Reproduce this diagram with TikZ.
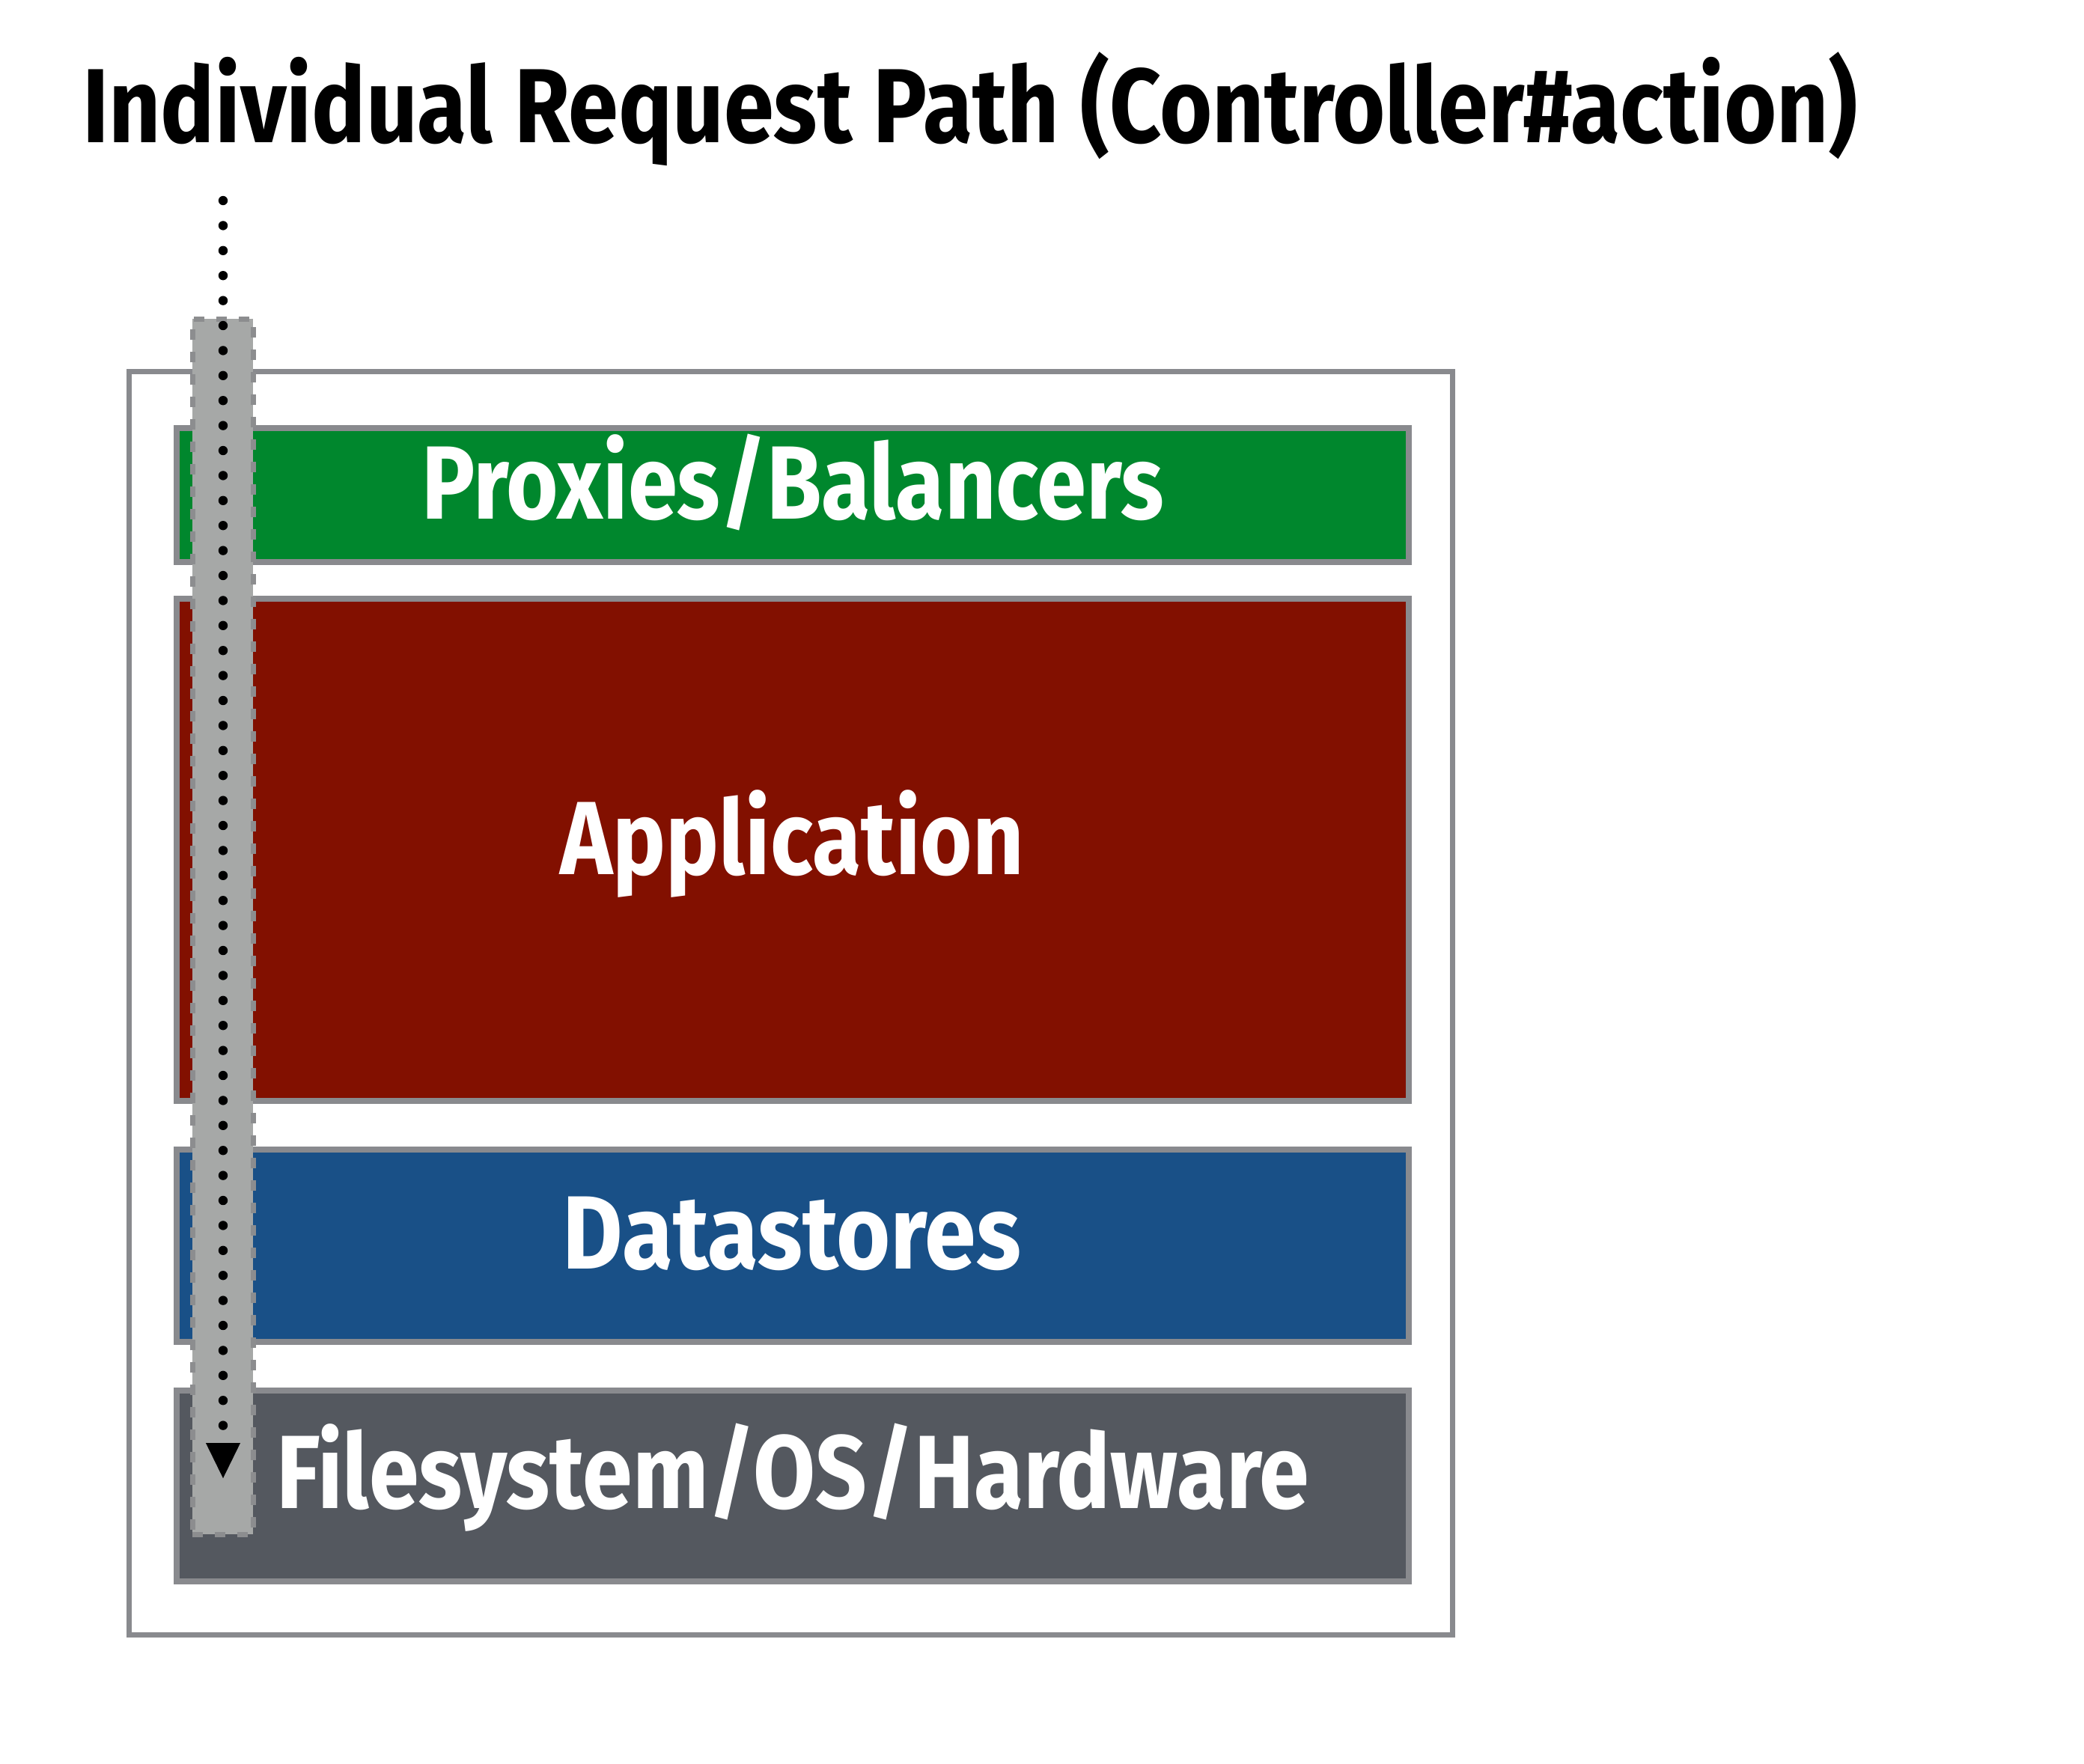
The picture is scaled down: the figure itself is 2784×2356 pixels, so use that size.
\documentclass[tikz,border=0pt]{standalone}
\usepackage{fontspec}
\setmainfont{Fira Sans}
\usepackage{graphicx}
\usetikzlibrary{arrows.meta}
\definecolor{layergreen}{RGB}{0,135,45}
\definecolor{layerred}{RGB}{130,16,0}
\definecolor{layerblue}{RGB}{25,80,135}
\definecolor{layergray}{RGB}{84,88,95}
\definecolor{edgegray}{RGB}{137,138,142}
\definecolor{stripfill}{RGB}{166,168,167}
\definecolor{stripedge}{RGB}{140,141,143}
\newcommand\fitw[2]{\resizebox{#1}{\height}{#2}}
\tikzset{
  layerbox/.style={draw=edgegray, line width=2pt, inner sep=0pt, outer sep=0pt,
    minimum width=411.5pt},
  layertext/.style={inner sep=0pt, outer sep=0pt, anchor=base, text=white,
    font=\fontsize{34.8pt}{40pt}\selectfont\bfseries},
  titletext/.style={inner sep=0pt, outer sep=0pt, anchor=base west, text=black,
    font=\fontsize{35.2pt}{40pt}\selectfont\bfseries},
  stripbox/.style={draw=stripedge, fill=stripfill, line width=1.75pt,
    dash pattern=on 3.5pt off 4pt, inner sep=0pt, outer sep=0pt,
    minimum width=20.25pt, minimum height=406pt},
  pathline/.style={line width=3.1pt, line cap=round, dash pattern=on 0pt off 8.35pt,
    -{Triangle[length=11.75pt, width=11.5pt, line width=0.1pt]}}
}
\begin{document}
\begin{tikzpicture}[x=0.25pt, y=-0.25pt]
\useasboundingbox (0,0) rectangle (2784,2356);
\fill[white] (0,0) rectangle (2784,2356);
% title
\node[titletext] (title) at (110,190) {\fitw{593pt}{Individual Request Path (Controller\#action)}};
% outer frame
\node[draw=edgegray, line width=1.75pt, inner sep=0pt, minimum width=442pt, minimum height=422pt] (frame) at (1056,1340) {};
% layers
\node[layerbox, fill=layergreen, minimum height=44.75pt] (proxies) at (1059,661.5) {};
\node[layerbox, fill=layerred, minimum height=167.75pt] (app) at (1059,1135.5) {};
\node[layerbox, fill=layerblue, minimum height=64.25pt] (data) at (1059,1664.5) {};
\node[layerbox, fill=layergray, minimum height=63.75pt] (fs) at (1059,1985.5) {};
% labels
\node[layertext] (proxiesl) at (1059,693) {\fitw{248pt}{Proxies/Balancers}};
\node[layertext] (appl) at (1058,1168) {\fitw{155pt}{Application}};
\node[layertext] (datal) at (1058,1695) {\fitw{153pt}{Datastores}};
\node[layertext] (fsl) at (1059,2015) {\fitw{345pt}{Filesystem/OS/Hardware}};
% request strip
\node[stripbox] (strip) at (297.5,1238) {};
% dotted request path
\coordinate (pathstart) at (298,268);
\coordinate (pathend) at (298,1975);
\draw[pathline] (pathstart) -- (pathend);
\end{tikzpicture}
\end{document}
